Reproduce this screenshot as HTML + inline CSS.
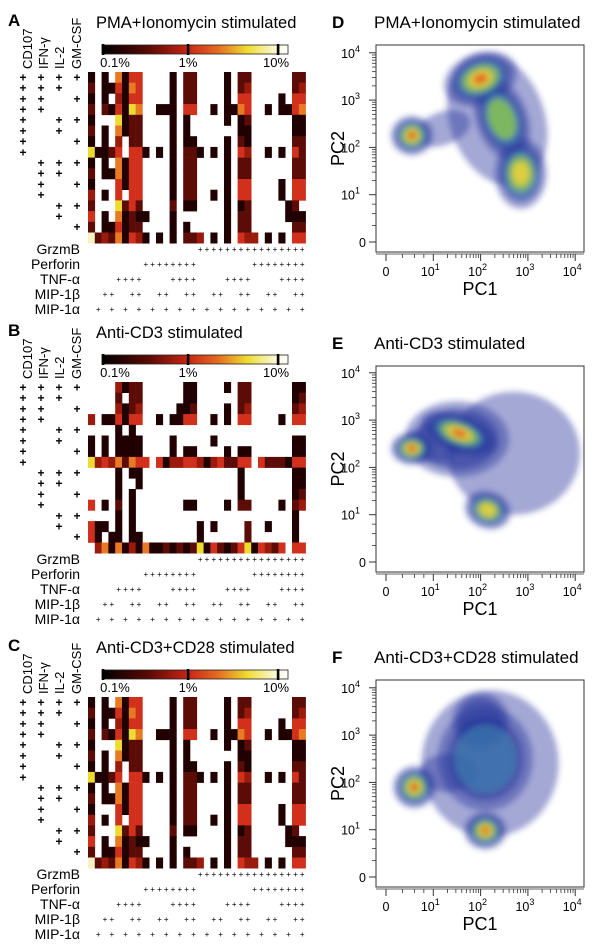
<!DOCTYPE html>
<html><head><meta charset="utf-8">
<style>
html,body{margin:0;padding:0;background:#fff;}
svg{display:block;font-family:"Liberation Sans",sans-serif;}
</style></head>
<body>
<svg id="fig" width="600" height="948" viewBox="0 0 600 948" xmlns="http://www.w3.org/2000/svg">
<defs>
<linearGradient id="cbar" x1="0" x2="1" y1="0" y2="0">
<stop offset="0" stop-color="#000"/>
<stop offset="0.25" stop-color="#5a0a05"/>
<stop offset="0.46" stop-color="#c82414"/>
<stop offset="0.62" stop-color="#e46a20"/>
<stop offset="0.78" stop-color="#eedc30"/>
<stop offset="0.92" stop-color="#f8f6c8"/>
<stop offset="1" stop-color="#fff"/>
</linearGradient>
<filter id="blur" x="-30%" y="-30%" width="160%" height="160%"><feGaussianBlur stdDeviation="3"/></filter>
<clipPath id="clipD"><rect x="376" y="45" width="208" height="207"/></clipPath>
<clipPath id="clipE"><rect x="376" y="366" width="208" height="207"/></clipPath>
<clipPath id="clipF"><rect x="376" y="680" width="208" height="208"/></clipPath>
</defs>
</svg>
<script>
// ---------- heatmap data (16 rows x 32 columns; '.'=0 none, 1..7 = increasing frequency) ----------
const heatA = [
"1.1.5144....1.22....1.22......22",
"2.114154....1.22....1.23......23",
"1.1.3144....1.22....1.44....1.44",
"2.214165..111.44..1.1154..1.1145",
"1...6122....1.1.....1.12......11",
"2.1.5122....1.1.......11......11",
"1.1.3.22....1.11....1.21......22",
"61124.441.1.1.221.1.1.43..1.1.42",
"1.1.5144....1.22....1.22......22",
"2.115144....1.22....1.22......22",
"1...4144....1.22....1.44....1.44",
"3.1.4.44....1.22..1.1.44....1.44",
"2...6242....2.11....1.12.....12.",
"4.1.51211...1.......1.22.....111",
"2.114122....1.1.....1.22......22",
"723251431.1.1.223.1.1.433.1.1.44"
];
const heatB = [
"....3122......11....1.22......11",
"....2.22......11......22......12",
"....3123.....112....1.23......23",
"3.114144..1.1144..1.1.44....1.44",
"....1.1.........................",
"1.1.1111....1.....1...........11",
"1.1.1111....1.11....1.11......11",
"634352544.41334431342244.4222144",
"....1.11..............1.......11",
"....1..1..............1.......11",
"....1.1...............1.......12",
"4.1.2.1.......11....1.22....1.23",
"....1.1.......................1.",
"411.1.1.........1.1....2..1...1.",
"41.11.11........1......2......1.",
".3515131511212126142124614324.44"
];
const heatC = [
"1.1.5144....1.22....1.22......22",
"2.114154....1.22....1.23......23",
"1.1.3144....1.22....1.44....1.44",
"2.214165..111.44..1.1154..1.1145",
"1...6122....1.1.....1.12......11",
"2.1.5122....1.1.......11......11",
"1.1.3.22....1.11....1.21......22",
"61124.441.1.1.221.1.1.43..1.1.42",
"1.1.5144....1.22....1.22......22",
"2.115144....1.22....1.22......22",
"1...4144....1.22....1.44....1.44",
"3.1.4.44....1.22..1.1.44....1.44",
"2...6242....2.11....1.12.....12.",
"4.1.51211...1.......1.22.....111",
"2.114122....1.1.....1.22......22",
"723251431.1.1.223.1.1.433.1.1.44"
];
const rowMarkers = ["CD107","IFN-γ","IL-2","GM-CSF"];
const colMarkers = ["GrzmB","Perforin","TNF-α","MIP-1β","MIP-1α"];
const cbarTicks = ["0.1%","1%","10%"];
const heatTitles = ["PMA+Ionomycin stimulated","Anti-CD3 stimulated","Anti-CD3+CD28 stimulated"];
const heatLetters = ["A","B","C"];

// ---------- scatter (PCA density) data: cluster centres & spreads in decade units ----------
const scTitles = ["PMA+Ionomycin stimulated","Anti-CD3 stimulated","Anti-CD3+CD28 stimulated"];
const scLetters = ["D","E","F"];
const axisTicks = ["0","10","10","10","10"];
const axisExp = ["","1","2","3","4"];
const clusterPC1 = [[2.35,1.2,0.55,2.0,2.45,2.85],[2.7,1.5,0.55,1.55,2.15,1.0],[2.2,2.1,2.0,0.6,2.1,1.3]];
const clusterPC2 = [[2.6,2.4,2.25,3.45,2.6,1.45],[2.3,2.6,2.4,2.72,1.1,2.5],[2.4,2.5,3.3,1.9,0.98,2.2]];
const clusterRX  = [[1.0,0.6,0.45,0.8,0.55,0.55],[1.4,1.1,0.45,0.85,0.5,0.6],[1.45,1.0,0.6,0.45,0.45,0.6]];
const clusterRY  = [[1.45,0.35,0.42,0.55,0.9,0.75],[1.3,0.8,0.35,0.4,0.4,0.4],[1.55,1.1,0.6,0.45,0.4,0.4]];
const clusterRot = [[-20,-20,0,-20,-20,0],[0,0,0,20,20,0],[0,0,0,0,0,0]];
const clusterPeak= [[1,1,7,6,4,5],[1,2,7,6,5,1],[1,3,2,7,6,1]];

const svg = document.getElementById('fig');
const NS = "http://www.w3.org/2000/svg";
function mk(tag, attrs, parent){
  const e = document.createElementNS(NS, tag);
  for (const k in attrs) e.setAttribute(k, attrs[k]);
  (parent||svg).appendChild(e);
  return e;
}
const cellColors = {"1":"#200000","2":"#5c0c06","3":"#9a1a0c","4":"#d0301c","5":"#e87a24","6":"#ecdc30","7":"#f6f2c4"};

const hx0 = 88, colW = 6.8, rowH = 10.7;
const cbX0 = 102, cbX1 = 288;
function colX(c){ return hx0 + c*colW; }
function rowY(top, r){ return top + r*rowH; }
function cbScale(i){ return [103,188,278][i]; }

const heatData = [heatA, heatB, heatC];
const panelTops = [72, 382, 697];

heatData.forEach((mat, p) => {
  const top = panelTops[p];
  const g = mk('g', {});
  
  
  const letter = mk('text', {x:8, y:top-46, 'font-size':17, 'font-weight':'bold'}, g);
  
  
  letter.textContent = heatLetters[p];
  const title = mk('text', {x:96, y:top-44, 'font-size':16.5}, g);
  
  
  title.textContent = heatTitles[p];
  const cb = mk('rect', {x:cbX0, y:top-27, width:cbX1-cbX0, height:9, fill:'url(#cbar)', stroke:'#222', 'stroke-width':0.8}, g);
  
  
  cbarTicks.forEach((t,i) => {
    const tk = mk('rect', {x:cbScale(i)-1.2, y:top-28, width:2.6, height:11, fill:'#000'}, g);
    
    
    const tl = mk('text', {x:cbScale(i)+(i==0?12:i==2?-2:0), y:top-5, 'font-size':13, 'text-anchor':'middle'}, g);
    
    
    tl.textContent = t;
  });
  const rlx = [32, 48, 64, 81];
  rowMarkers.forEach((m,i) => {
    const t = mk('text', {x:0, y:0, 'font-size':13, transform:`translate(${rlx[i]},${top-3}) rotate(-90)`}, g);
    
    
    t.textContent = m;
  });
  const plx = [23, 41, 59, 77];
  for (let r=0; r<16; r++){
    for (let k=0; k<4; k++){
      const bit = (15 - r) >> (3-k) & 1;
      if (bit){
        const t = mk('text', {x:plx[k], y:rowY(top,r)+rowH/2+4, 'font-size':12, 'text-anchor':'middle', 'font-weight':'bold'}, g);
        
        
        t.textContent = '+';
      }
    }
  }
  mat.forEach((row, r) => {
    for (let c=0; c<32; c++){
      const v = row[c];
      if (v && v !== '.'){
        const cell = mk('rect', {x:colX(c), y:rowY(top,r), width:colW+0.3, height:rowH+0.3, fill:cellColors[v]}, g);
        
        
      }
    }
  });
  const bot = rowY(top,16);
  colMarkers.forEach((m,i) => {
    const y = bot + 6 + i*15;
    const t = mk('text', {x:80, y:y+5, 'font-size':14, 'text-anchor':'end'}, g);
    
    
    t.textContent = m;
    for (let c=0; c<32; c++){
      const bit = (31 - c) >> (4-i) & 1;
      if (!bit){
        const pl = mk('text', {x:colX(c)+colW/2, y:y+3, 'font-size':8, 'text-anchor':'middle'}, g);
        
        
        pl.textContent = '+';
      }
    }
  });
});

// ---------- scatter plots ----------
const boxTop = [45, 366, 680];
const zeroY = [242, 562, 877];
const clips = ['clipD','clipE','clipF'];
const dec = 47.3;
function sx(d){ return 386 + dec*d; }
function sy(p, d){ return zeroY[p] - dec*d; }
const layers = [[1.0,'#24339a',0.42],[0.8,'#24339a',0.5],[0.65,'#3e86b0',0.6],[0.5,'#88c452',0.85],[0.33,'#e8d040',0.9],[0.2,'#e46a20',0.95],[0.1,'#d02010',1]];

scTitles.forEach((title, p) => {
  const g = mk('g', {});
  
  
  const L = mk('text', {x:332, y:boxTop[p]-17, 'font-size':17, 'font-weight':'bold'}, g);
  
  
  L.textContent = scLetters[p];
  const T = mk('text', {x:374, y:boxTop[p]-17, 'font-size':17}, g);
  
  
  T.textContent = title;
  const dens = mk('g', {'clip-path':`url(#${clips[p]})`, filter:'url(#blur)'}, g);
  
  
  for (let layer=0; layer<layers.length; layer++){
    for (let k=0; k<clusterPC1[p].length; k++){
      if (layer >= clusterPeak[p][k]) continue;
      const [s,col,op] = layers[layer];
      const cx = sx(clusterPC1[p][k]), cy = sy(p, clusterPC2[p][k]);
      const e = mk('ellipse', {cx:cx, cy:cy, rx:clusterRX[p][k]*dec*s, ry:clusterRY[p][k]*dec*s, fill:col, 'fill-opacity':op, transform:`rotate(${clusterRot[p][k]} ${cx} ${cy})`}, dens);
      
      
    }
  }
  const box = mk('rect', {x:376, y:boxTop[p], width:208, height:zeroY[p]+10-boxTop[p], fill:'none', stroke:'#333', 'stroke-width':1}, g);
  
  
  const by = zeroY[p]+10;
  for (let d=0; d<=4; d++){
    const xt = mk('line', {x1:sx(d), x2:sx(d), y1:by+2, y2:by+9, stroke:'#333', 'stroke-width':1}, g);
    
    
    const yt = mk('line', {x1:369, x2:376, y1:sy(p,d), y2:sy(p,d), stroke:'#333', 'stroke-width':1}, g);
    
    
    const xl = mk('text', {x:sx(d)-(d?3:0), y:by+24, 'font-size':12.5, 'text-anchor':'middle'}, g);
    
    
    xl.textContent = axisTicks[d];
    if (axisExp[d]){
      const xs = mk('tspan', {'font-size':9, dy:-6}, xl);
      xs.textContent = axisExp[d];
    }
    const yl = mk('text', {x:366-(d?6:0), y:sy(p,d)+5, 'font-size':12.5, 'text-anchor':'end'}, g);
    
    
    yl.textContent = axisTicks[d];
    if (axisExp[d]){
      const ys = mk('tspan', {'font-size':9, dy:-6}, yl);
      ys.textContent = axisExp[d];
    }
    if (d<4){
      const mins = d==0 ? [0.35,0.6,0.8] : [2,3,4,5,6,7,8,9].map(m => Math.log10(m));
      mins.forEach(m => {
        const mx = mk('line', {x1:sx(d+m), x2:sx(d+m), y1:by+2, y2:by+6, stroke:'#333', 'stroke-width':0.8}, g);
        
        
        const my = mk('line', {x1:372, x2:376, y1:sy(p,d+m), y2:sy(p,d+m), stroke:'#333', 'stroke-width':0.8}, g);
        
        
      });
    }
  }
  const xaxis = mk('line', {x1:376, x2:584, y1:by+2, y2:by+2, stroke:'#333', 'stroke-width':0.8}, g);
  
  
  const xt = mk('text', {x:480, y:by+43, 'font-size':18, 'text-anchor':'middle'}, g);
  
  
  xt.textContent = 'PC1';
  const yt = mk('text', {x:0, y:0, 'font-size':18, 'text-anchor':'middle', transform:`translate(344,${(boxTop[p]+by)/2}) rotate(-90)`}, g);
  
  
  yt.textContent = 'PC2';
});
</script>
</body></html>
